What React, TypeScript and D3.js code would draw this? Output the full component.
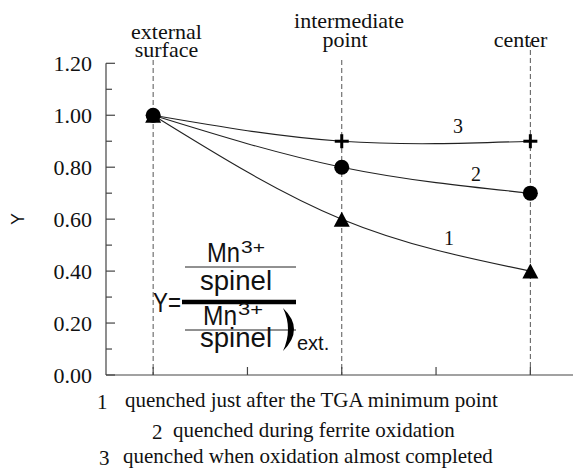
import React from "react";
import * as d3 from "d3";

// ---- data ----
const positions = [0, 2, 4]; // external surface, intermediate point, center
const series1 = [1.0, 0.6, 0.4]; // triangles
const series2 = [1.0, 0.8, 0.7]; // circles
const series3 = [1.0, 0.9, 0.9]; // plus
const seriesNames = ["1", "2", "3"];
const yMajorTicks = [0, 0.2, 0.4, 0.6, 0.8, 1.0, 1.2];
const yMinorTicks = [0.1, 0.3, 0.5, 0.7, 0.9, 1.1];
const yTickLabels = ["0.00", "0.20", "0.40", "0.60", "0.80", "1.00", "1.20"];
const xTicks = [0, 1, 2, 3, 4];
const legendNumbers = ["1", "2", "3"];
const legendTexts = [
  "quenched just after the TGA minimum point",
  "quenched during ferrite oxidation",
  "quenched when oxidation almost completed",
];

const W = 573;
const H = 469;
const SERIF = "'Liberation Serif', 'Times New Roman', serif";
const SANS = "'Liberation Sans', Arial, sans-serif";

export default function App() {
  const x = d3.scaleLinear().domain([-0.5, 4.5]).range([106, 577.5]);
  const y = d3.scaleLinear().domain([0, 1.2]).range([375, 63.3]);

  const line = d3
    .line<[number, number]>()
    .x((d) => x(d[0]))
    .y((d) => y(d[1]))
    .curve(d3.curveNatural);

  const pts = (vals: number[]) => positions.map((p, i) => [p, vals[i]] as [number, number]);

  const tri = (cx: number, cy: number) =>
    `M${cx},${cy - 7.5}L${cx + 8},${cy + 7.5}L${cx - 8},${cy + 7.5}Z`;

  const axisColor = "#444";
  const x0 = x(-0.5);
  const y0 = y(0);

  // top label placement
  const topLabels = [
    { lines: ["external", "surface"], cx: [166.5, 166.5], by: [39, 57] },
    { lines: ["intermediate", "point"], cx: [349, 345], by: [28, 47] },
    { lines: ["center"], cx: [520.5], by: [47] },
  ];
  const dashTop = [60, 60, 42];

  const legendLayout = [
    { nx: 97, tx: 125, by: 407 },
    { nx: 152, tx: 173, by: 437 },
    { nx: 99, tx: 123, by: 463 },
  ];

  const curveLabelPos = [
    { cx: 449, by: 245 },
    { cx: 476, by: 180.5 },
    { cx: 458, by: 133 },
  ];

  return (
    <svg
      width={W}
      height={H}
      style={{ position: "absolute", left: 0, top: 0, background: "#fff" }}
    >
      <rect width={W} height={H} fill="#fff" />

      {/* dashed vertical reference lines */}
      {positions.map((p, i) => (
        <line
          key={"d" + i}
          x1={x(p)}
          x2={x(p)}
          y1={dashTop[i]}
          y2={y0}
          stroke="#555"
          strokeWidth={1}
          strokeDasharray="5,3"
        />
      ))}

      {/* y axis */}
      <line x1={x0} x2={x0} y1={y(1.2)} y2={y0} stroke={axisColor} strokeWidth={1.2} />
      {yMajorTicks.map((t, i) => (
        <g key={"ym" + i}>
          <line x1={x0} x2={x0 + 9} y1={y(t)} y2={y(t)} stroke={axisColor} strokeWidth={1.2} />
          <text
            x={92}
            y={y(t)}
            textAnchor="end"
            dominantBaseline="central"
            fontFamily={SERIF}
            fontSize={22}
            fill="#111"
          >
            {yTickLabels[i]}
          </text>
        </g>
      ))}
      {yMinorTicks.map((t, i) => (
        <line key={"yn" + i} x1={x0} x2={x0 + 6} y1={y(t)} y2={y(t)} stroke={axisColor} strokeWidth={1.2} />
      ))}

      {/* x axis */}
      <line x1={x0} x2={W} y1={y0} y2={y0} stroke={axisColor} strokeWidth={1.2} />
      {xTicks.map((t, i) => (
        <line key={"xt" + i} x1={x(t)} x2={x(t)} y1={y0} y2={y0 - 8} stroke={axisColor} strokeWidth={1.2} />
      ))}

      {/* y label */}
      <text
        transform="translate(18,219) rotate(-90)"
        textAnchor="middle"
        dominantBaseline="central"
        fontFamily={SANS}
        fontSize={18}
        fill="#111"
      >
        Y
      </text>

      {/* top position labels */}
      {topLabels.map((lb, i) =>
        lb.lines.map((s, j) => (
          <text
            key={"tl" + i + j}
            x={lb.cx[j]}
            y={lb.by[j]}
            textAnchor="middle"
            fontFamily={SERIF}
            fontSize={22}
            fill="#111"
          >
            {s}
          </text>
        ))
      )}

      {/* curves */}
      {[series1, series2, series3].map((s, i) => (
        <path key={"c" + i} d={line(pts(s)) || ""} fill="none" stroke="#222" strokeWidth={1.1} />
      ))}

      {/* markers: plus, triangle, circle */}
      {pts(series3).map(([p, v], i) => (
        <g key={"p" + i} stroke="#000" strokeWidth={3}>
          <line x1={x(p) - 7} x2={x(p) + 7} y1={y(v)} y2={y(v)} />
          <line x1={x(p)} x2={x(p)} y1={y(v) - 7} y2={y(v) + 7} />
        </g>
      ))}
      {pts(series1).map(([p, v], i) => (
        <path key={"t" + i} d={tri(x(p), y(v))} fill="#000" />
      ))}
      {pts(series2).map(([p, v], i) => (
        <circle key={"o" + i} cx={x(p)} cy={y(v)} r={7.5} fill="#000" />
      ))}

      {/* curve labels */}
      {seriesNames.map((n, i) => (
        <text
          key={"cl" + i}
          x={curveLabelPos[i].cx}
          y={curveLabelPos[i].by}
          textAnchor="middle"
          fontFamily={SERIF}
          fontSize={20}
          fill="#111"
        >
          {n}
        </text>
      ))}

      {/* formula */}
      <g fontFamily={SANS} fill="#111">
        <text x={207} y={262} fontSize={27} textLength={33} lengthAdjust="spacingAndGlyphs">Mn</text>
        <text x={241} y={253} fontSize={16} textLength={24} lengthAdjust="spacingAndGlyphs">3+</text>
        <line x1={185} x2={296} y1={267} y2={267} stroke="#222" strokeWidth={1} />
        <text x={200} y={290} fontSize={27} textLength={72} lengthAdjust="spacingAndGlyphs">spinel</text>
        <text x={153} y={312} fontSize={27} textLength={28} lengthAdjust="spacingAndGlyphs">Y=</text>
        <line x1={182} x2={296} y1={302} y2={302} stroke="#000" strokeWidth={4.5} />
        <text x={203} y={325} fontSize={27} textLength={34} lengthAdjust="spacingAndGlyphs">Mn</text>
        <text x={238} y={315} fontSize={16} textLength={25} lengthAdjust="spacingAndGlyphs">3+</text>
        <line x1={185} x2={296} y1={330} y2={330} stroke="#222" strokeWidth={1} />
        <text x={200} y={347} fontSize={27} textLength={72} lengthAdjust="spacingAndGlyphs">spinel</text>
        <path d="M283,308 Q305,329 283,351 Q293,329 283,308 Z" fill="#000" />
        <text x={297} y={350} fontSize={20}>ext.</text>
      </g>

      {/* legend */}
      {legendTexts.map((t, i) => (
        <g key={"lg" + i} fontFamily={SERIF} fontSize={21} fill="#111">
          <text x={legendLayout[i].nx} y={legendLayout[i].by + 2}>{legendNumbers[i]}</text>
          <text x={legendLayout[i].tx} y={legendLayout[i].by}>{t}</text>
        </g>
      ))}
    </svg>
  );
}
